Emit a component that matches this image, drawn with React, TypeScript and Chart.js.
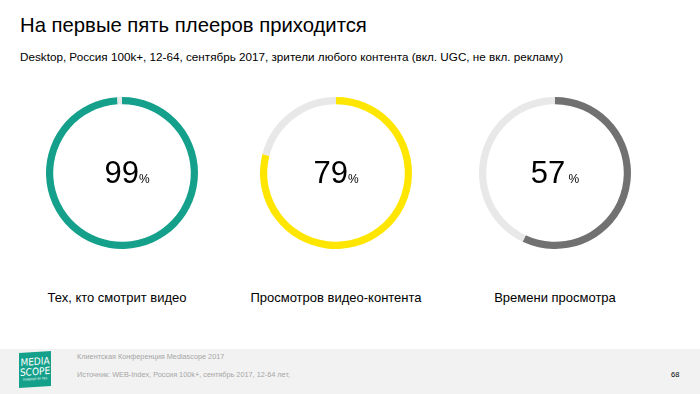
import React, { useEffect, useRef } from "react";
import { Chart, registerables } from "chart.js";

Chart.register(...registerables);

const categories = ["Тех, кто смотрит видео", "Просмотров видео-контента", "Времени просмотра"];
const values = [99, 79, 57];
const colors = ["#14a08a", "#ffe600", "#717171"];
const restColor = "#e8e8e8";
const centersX = [122, 336, 555];
const textShift = [5, 0, 0];

const FONT = "'Liberation Sans', Arial, sans-serif";

function Donut({ value, color, cx, shift }: { value: number; color: string; cx: number; shift: number }) {
  const ref = useRef<HTMLCanvasElement>(null);
  useEffect(() => {
    if (!ref.current) return;
    const chart = new Chart(ref.current, {
      type: "doughnut",
      data: {
        labels: ["value", "rest"],
        datasets: [
          {
            data: [value, 100 - value],
            backgroundColor: [color, restColor],
            borderWidth: 0,
          },
        ],
      },
      options: {
        animation: false,
        responsive: false,
        maintainAspectRatio: false,
        cutout: "90.5%",
        layout: { padding: 0 },
        plugins: { legend: { display: false }, tooltip: { enabled: false } },
        events: [],
      },
    });
    return () => chart.destroy();
  }, [value, color]);
  const size = 152;
  return (
    <>
      <canvas
        ref={ref}
        width={size}
        height={size}
        style={{ position: "absolute", left: cx - size / 2, top: 173 - size / 2, width: size, height: size }}
      />
      <div
        style={{
          position: "absolute",
          left: cx - 80 + shift,
          width: 160,
          top: 155,
          textAlign: "center",
          fontFamily: FONT,
          color: "#000",
          lineHeight: "36px",
          whiteSpace: "nowrap",
        }}
      >
        <span style={{ fontSize: 31 }}>{value}</span>
        <span style={{ fontSize: 12 }}>{value === 57 ? "\u00a0%" : "%"}</span>
      </div>
    </>
  );
}

export default function App() {
  return (
    <div style={{ position: "absolute", left: 0, top: 0, width: 700, height: 394, background: "#fff", overflow: "hidden", fontFamily: FONT }}>
      <div style={{ position: "absolute", left: 20, top: 13.6, fontSize: 20.3, color: "#000", whiteSpace: "nowrap" }}>
        На первые пять плееров приходится
      </div>
      <div style={{ position: "absolute", left: 20, top: 49.5, fontSize: 11.7, color: "#000", whiteSpace: "nowrap" }}>
        Desktop, Россия 100k+, 12-64, сентябрь 2017, зрители любого контента (вкл. UGC, не вкл. рекламу)
      </div>
      {values.map((v, i) => (
        <Donut key={i} value={v} color={colors[i]} cx={centersX[i]} shift={textShift[i]} />
      ))}
      {categories.map((c, i) => (
        <div
          key={c}
          style={{
            position: "absolute",
            left: centersX[i] - 100 - (i === 0 ? 5 : 0),
            width: 200,
            top: 290,
            textAlign: "center",
            fontSize: 13,
            color: "#000",
            whiteSpace: "nowrap",
          }}
        >
          {c}
        </div>
      ))}
      <div style={{ position: "absolute", left: 0, top: 349, width: 700, height: 45, background: "#f2f2f2" }} />
      <div
        style={{
          position: "absolute",
          left: 19,
          top: 352,
          width: 32,
          height: 35,
          background: "#14a08a",
          color: "#fff",
          fontSize: 10,
          lineHeight: "10px",
          textAlign: "center",
          paddingTop: 5,
          boxSizing: "border-box",
          fontFamily: "'Liberation Sans Narrow', 'DejaVu Sans Condensed', sans-serif",
          transform: "skewY(-4deg)",
        }}
      >
        <div>MEDIA</div>
        <div>SCOPE</div>
        <div style={{ fontSize: 3, lineHeight: "5px" }}>POWERED BY TNS</div>
      </div>
      <div style={{ position: "absolute", left: 77, top: 352, fontSize: 7.3, color: "#a6a6a6", whiteSpace: "nowrap" }}>
        Клиентская Конференция Mediascope 2017
      </div>
      <div style={{ position: "absolute", left: 77, top: 370, fontSize: 7.3, color: "#a6a6a6", whiteSpace: "nowrap" }}>
        Источник: WEB-Index, Россия 100k+, сентябрь 2017, 12-64 лет,
      </div>
      <div style={{ position: "absolute", left: 671, top: 369.5, fontSize: 7.5, color: "#000", whiteSpace: "nowrap" }}>
        68
      </div>
    </div>
  );
}
